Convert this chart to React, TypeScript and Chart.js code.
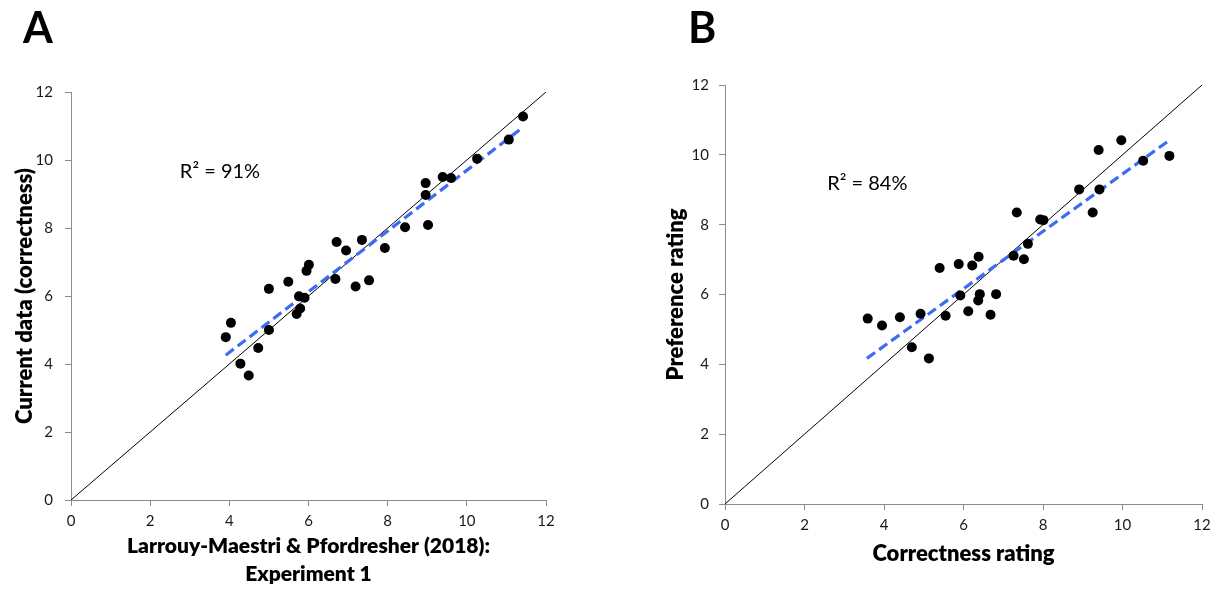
import React, { useEffect, useRef } from "react";
import { Chart, registerables } from "chart.js";

Chart.register(...registerables);

// ---------- Data ----------
const AXIS_MIN = 0;
const AXIS_MAX = 12;
const AXIS_STEP = 2;

// Panel A: Larrouy-Maestri & Pfordresher (2018) vs current data (correctness)
const aX = [3.91, 4.04, 4.28, 4.49, 4.73, 5.0, 5.0, 5.49, 5.7, 5.79, 5.76, 5.9, 5.95, 6.01, 6.68, 6.71, 6.95, 7.19, 7.35, 7.53, 7.93, 8.44, 8.96, 8.96, 9.02, 9.39, 9.6, 10.26, 11.06, 11.42];
const aY = [4.79, 5.21, 4.01, 3.66, 4.47, 6.21, 5.0, 6.42, 5.47, 5.63, 5.99, 5.95, 6.74, 6.92, 6.5, 7.59, 7.34, 6.28, 7.65, 6.46, 7.41, 8.02, 9.32, 8.97, 8.09, 9.5, 9.47, 10.04, 10.6, 11.28];
const aTrendX = [3.91, 11.36];
const aTrendY = [4.26, 10.91];

// Panel B: correctness rating vs preference rating
const bX = [3.59, 3.95, 4.4, 4.7, 4.92, 5.13, 5.4, 5.55, 5.88, 5.92, 6.12, 6.22, 6.38, 6.41, 6.37, 6.68, 6.82, 7.26, 7.34, 7.52, 7.62, 7.93, 8.01, 8.91, 9.25, 9.4, 9.42, 9.97, 10.52, 11.18];
const bY = [5.31, 5.11, 5.35, 4.49, 5.45, 4.17, 6.76, 5.39, 6.87, 5.97, 5.52, 6.83, 7.08, 6.01, 5.83, 5.42, 6.01, 7.11, 8.35, 7.01, 7.45, 8.15, 8.13, 9.01, 8.35, 10.14, 9.01, 10.42, 9.83, 9.97];
const bTrendX = [3.57, 11.17];
const bTrendY = [4.17, 10.41];

// Identity line
const identityX = [0, 12];
const identityY = [0, 12];

// Text
const aLetter = "A";
const bLetter = "B";
const aR2 = "R\u00B2 = 91%";
const bR2 = "R\u00B2 = 84%";
const aR2Pos = [2.75, 9.47];
const bR2Pos = [2.57, 8.99];
const aXTitle = ["Larrouy-Maestri & Pfordresher (2018):", "Experiment 1"];
const aYTitle = "Current data (correctness)";
const bXTitle = "Correctness rating";
const bYTitle = "Preference rating";

const FONT = "Lato";
const AXIS_GREY = "#8c8c8c";
const TREND_BLUE = "#3b6cf2";

const toPts = (xs: number[], ys: number[]) => xs.map((x, i) => ({ x, y: ys[i] }));

const annotPlugin = {
  id: "annot",
  afterDatasetsDraw(chart: any, _args: any, opts: any) {
    const { ctx, scales } = chart;
    ctx.save();
    ctx.fillStyle = "#000";
    ctx.textAlign = "left";
    ctx.textBaseline = "alphabetic";
    ctx.font = `bold 43px ${FONT}`;
    ctx.fillText(opts.letter, opts.letterX, opts.letterY);
    ctx.font = `20px ${FONT}`;
    ctx.fillText(opts.r2, scales.x.getPixelForValue(opts.r2Pos[0]), scales.y.getPixelForValue(opts.r2Pos[1]));
    ctx.restore();
  },
};

type PanelProps = {
  left: number;
  width: number;
  height: number;
  area: { left: number; right: number; top: number; bottom: number };
  xs: number[];
  ys: number[];
  tx: number[];
  ty: number[];
  xTitle: string | string[];
  yTitle: string;
  xTitleSize: number;
  xTitlePadBottom: number;
  yTitlePadTop: number;
  yTickPad: number;
  letter: string;
  letterX: number;
  letterY: number;
  r2: string;
  r2Pos: number[];
};

function Panel(p: PanelProps) {
  const ref = useRef<HTMLCanvasElement | null>(null);
  useEffect(() => {
    if (!ref.current) return;
    const chart = new Chart(ref.current, {
      type: "scatter",
      data: {
        datasets: [
          {
            data: toPts(identityX, identityY),
            showLine: true,
            borderColor: "#000",
            borderWidth: 1,
            pointRadius: 0,
            order: 3,
          } as any,
          {
            data: toPts(p.tx, p.ty),
            showLine: true,
            borderColor: TREND_BLUE,
            borderWidth: 3.2,
            borderDash: [10, 5],
            pointRadius: 0,
            order: 2,
          } as any,
          {
            data: toPts(p.xs, p.ys),
            backgroundColor: "#000",
            borderColor: "#000",
            borderWidth: 0,
            pointRadius: 5,
            order: 1,
          } as any,
        ],
      },
      options: {
        responsive: false,
        animation: false,
        devicePixelRatio: 1,
        layout: {
          padding: { left: 0, top: p.area.top, right: p.width - p.area.right, bottom: 0 },
        },
        plugins: {
          legend: { display: false },
          tooltip: { enabled: false },
          annot: {
            letter: p.letter,
            letterX: p.letterX,
            letterY: p.letterY,
            r2: p.r2,
            r2Pos: p.r2Pos,
          },
        } as any,
        scales: {
          x: {
            type: "linear",
            min: AXIS_MIN,
            max: AXIS_MAX,
            afterFit: (s: any) => {
              s.height = p.height - p.area.bottom;
            },
            ticks: {
              stepSize: AXIS_STEP,
              color: "#1a1a1a",
              font: { family: FONT, size: 15 },
              padding: 6,
              maxRotation: 0,
            },
            grid: {
              drawOnChartArea: false,
              drawTicks: true,
              tickLength: 6,
              color: AXIS_GREY,
            },
            border: { color: AXIS_GREY, width: 1 },
            title: {
              display: true,
              text: p.xTitle,
              color: "#000",
              font: { family: FONT, size: p.xTitleSize, weight: "800", lineHeight: "28px" },
              padding: { top: 0, bottom: p.xTitlePadBottom },
            },
          },
          y: {
            type: "linear",
            min: AXIS_MIN,
            max: AXIS_MAX,
            afterFit: (s: any) => {
              s.width = p.area.left;
            },
            ticks: {
              stepSize: AXIS_STEP,
              color: "#1a1a1a",
              font: { family: FONT, size: 15 },
              padding: p.yTickPad,
            },
            grid: {
              drawOnChartArea: false,
              drawTicks: true,
              tickLength: 6,
              color: AXIS_GREY,
            },
            border: { color: AXIS_GREY, width: 1 },
            title: {
              display: true,
              text: p.yTitle,
              color: "#000",
              font: { family: FONT, size: 22, weight: "800", lineHeight: "26px" },
              padding: { top: p.yTitlePadTop, bottom: 0 },
            },
          },
        },
      } as any,
      plugins: [annotPlugin],
    });
    return () => chart.destroy();
  }, []);
  return (
    <canvas
      ref={ref}
      width={p.width}
      height={p.height}
      style={{ position: "absolute", left: p.left, top: 0, width: p.width, height: p.height, display: "block" }}
    />
  );
}

export default function App() {
  return (
    <div style={{ position: "absolute", left: 0, top: 0, width: 1221, height: 590, background: "#fff", overflow: "hidden" }}>
      <Panel
        left={0}
        width={620}
        height={590}
        area={{ left: 71, right: 546, top: 92, bottom: 500 }}
        xs={aX}
        ys={aY}
        tx={aTrendX}
        ty={aTrendY}
        xTitle={aXTitle}
        yTitle={aYTitle}
        xTitleSize={21}
        xTitlePadBottom={2}
        yTitlePadTop={12}
        yTickPad={12}
        letter={aLetter}
        letterX={23}
        letterY={43}
        r2={aR2}
        r2Pos={aR2Pos}
      />
      <Panel
        left={620}
        width={601}
        height={590}
        area={{ left: 105, right: 582, top: 85, bottom: 504 }}
        xs={bX}
        ys={bY}
        tx={bTrendX}
        ty={bTrendY}
        xTitle={bXTitle}
        yTitle={bYTitle}
        xTitleSize={22}
        xTitlePadBottom={22}
        yTitlePadTop={43}
        yTickPad={10}
        letter={bLetter}
        letterX={68}
        letterY={43}
        r2={bR2}
        r2Pos={bR2Pos}
      />
    </div>
  );
}
